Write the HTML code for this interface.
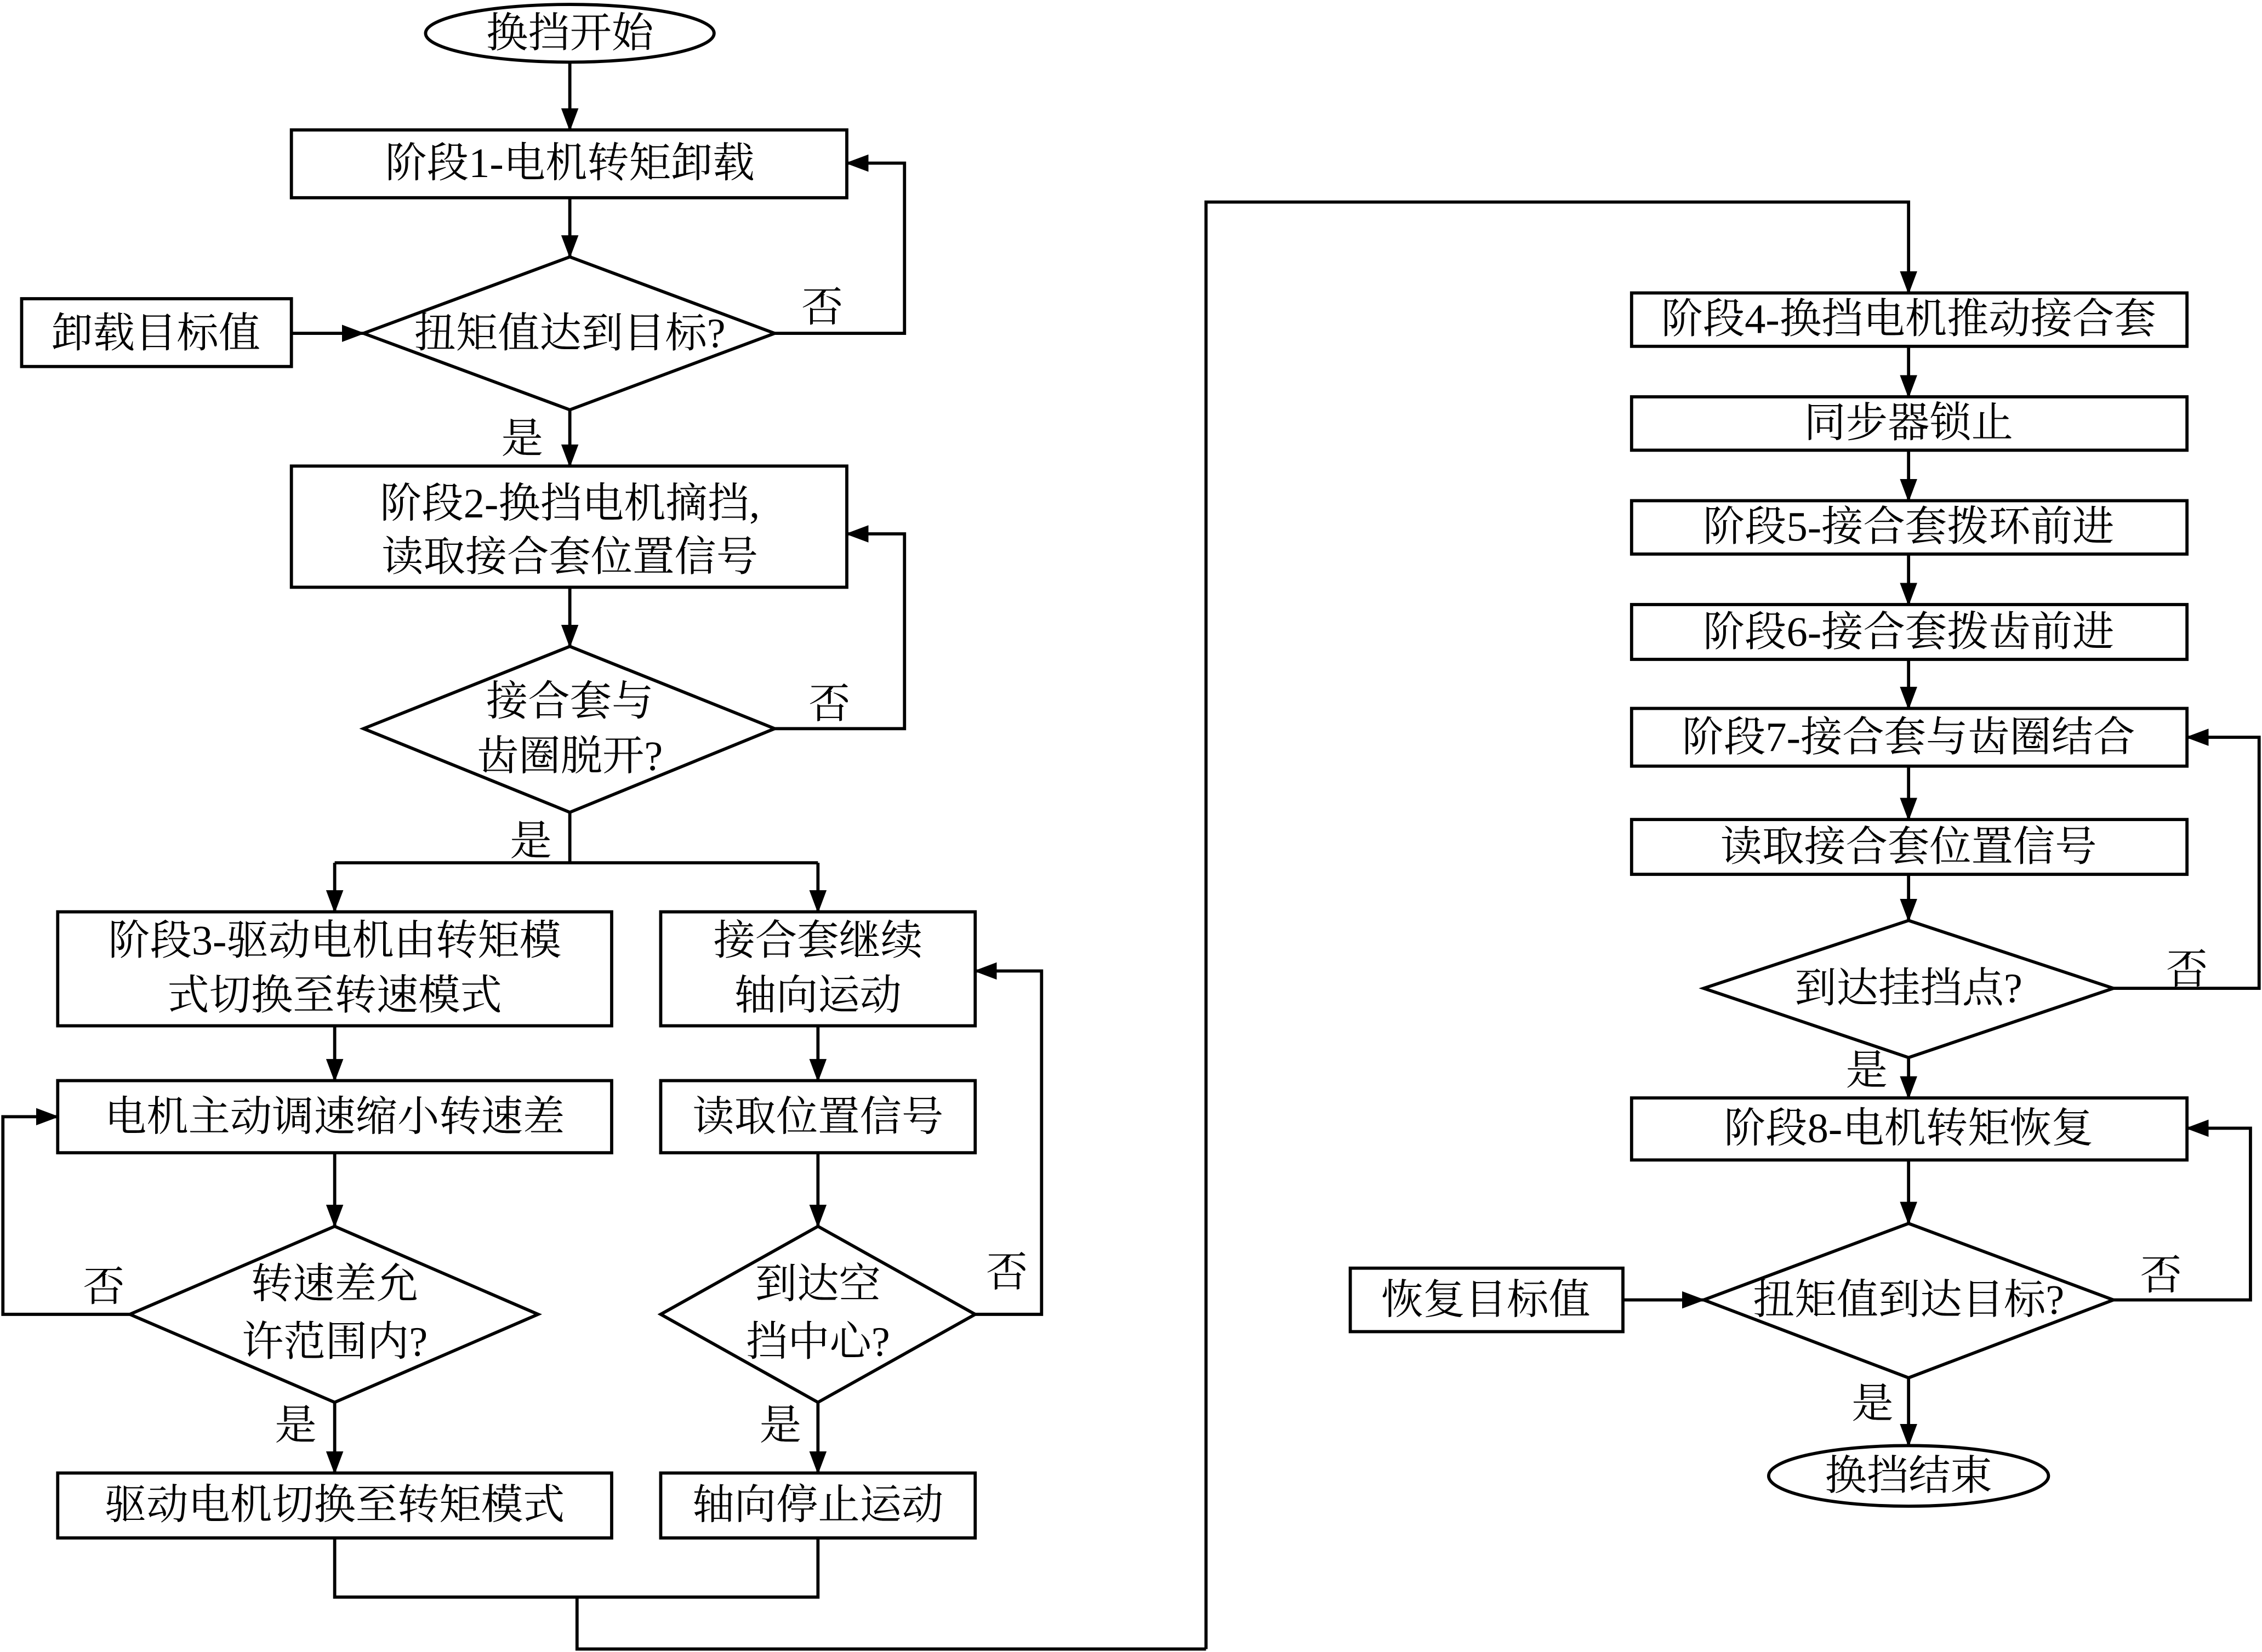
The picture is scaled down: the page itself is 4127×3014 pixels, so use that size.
<!DOCTYPE html>
<html><head><meta charset="utf-8"><style>
html,body{margin:0;padding:0;background:#fff;}
svg{display:block;}
text{font-family:"Liberation Serif","Noto Serif CJK SC","Noto Sans CJK SC",serif;font-size:29px;fill:#000;text-anchor:middle;dominant-baseline:central;}
.s{fill:none;stroke:#000;stroke-width:2.2;}
</style></head><body>
<svg width="4127" height="3014" viewBox="0 0 1568 1145" xmlns="http://www.w3.org/2000/svg">
<defs><marker id="a" markerWidth="16" markerHeight="12" refX="15" refY="6" orient="auto" markerUnits="userSpaceOnUse"><path d="M0,0 L16,6 L0,12 z" fill="#000"/></marker></defs>
<g class="s">
<ellipse cx="395" cy="23" rx="100" ry="20"/>
<rect x="202" y="90" width="385" height="47"/>
<polygon points="395,178 537,231 395,284 252,231"/>
<rect x="15" y="207" width="187" height="47"/>
<rect x="202" y="323" width="385" height="84"/>
<polygon points="395,448 537,505 395,563 252,505"/>
<rect x="40" y="632" width="384" height="79"/>
<rect x="458" y="632" width="218" height="79"/>
<rect x="40" y="749" width="384" height="50"/>
<rect x="458" y="749" width="218" height="50"/>
<polygon points="232,850 373,911 232,972 90,911"/>
<polygon points="567,850 676,911 567,972 458,911"/>
<rect x="40" y="1021" width="384" height="45"/>
<rect x="458" y="1021" width="218" height="45"/>
<rect x="1131" y="203" width="385" height="37"/>
<rect x="1131" y="275" width="385" height="37"/>
<rect x="1131" y="347" width="385" height="37"/>
<rect x="1131" y="419" width="385" height="38"/>
<rect x="1131" y="491" width="385" height="40"/>
<rect x="1131" y="568" width="385" height="38"/>
<polygon points="1323,638 1465,685 1323,733 1181,685"/>
<rect x="1131" y="761" width="385" height="43"/>
<polygon points="1323,848 1465,901 1323,955 1181,901"/>
<rect x="936" y="879" width="189" height="44"/>
<ellipse cx="1323" cy="1023" rx="97" ry="21"/>
</g>
<g class="s" marker-end="url(#a)">
<path d="M395,43 V90"/>
<path d="M395,137 V178"/>
<path d="M202,231 H252"/>
<path d="M537,231 H627 V113 H587"/>
<path d="M395,284 V323"/>
<path d="M395,407 V448"/>
<path d="M537,505 H627 V370 H587"/>
<path d="M232,598 V632"/>
<path d="M567,598 V632"/>
<path d="M232,711 V749"/>
<path d="M567,711 V749"/>
<path d="M232,799 V850"/>
<path d="M567,799 V850"/>
<path d="M90,911 H2 V774 H40"/>
<path d="M676,911 H722 V673 H676"/>
<path d="M232,972 V1021"/>
<path d="M567,972 V1021"/>
<path d="M836,1143 V140 H1323 V203"/>
<path d="M1323,240 V275"/>
<path d="M1323,312 V347"/>
<path d="M1323,384 V419"/>
<path d="M1323,457 V491"/>
<path d="M1323,531 V568"/>
<path d="M1323,606 V638"/>
<path d="M1465,685 H1566 V511 H1516"/>
<path d="M1323,733 V761"/>
<path d="M1323,804 V848"/>
<path d="M1465,901 H1560 V782 H1516"/>
<path d="M1125,901 H1181"/>
<path d="M1323,955 V1002"/>
</g>
<g class="s">
<path d="M395,563 V598 M232,598 H567"/>
<path d="M232,1066 V1107 H567 V1066 M400,1107 V1143 H836"/>
</g>
<text x="395" y="23">换挡开始</text>
<text x="395" y="113">阶段1-电机转矩卸载</text>
<text x="395" y="231">扭矩值达到目标?</text>
<text x="108" y="231">卸载目标值</text>
<text x="570" y="213">否</text>
<text x="362" y="304">是</text>
<text x="395" y="349">阶段2-换挡电机摘挡,</text>
<text x="395" y="386">读取接合套位置信号</text>
<text x="395" y="486">接合套与</text>
<text x="395" y="524">齿圈脱开?</text>
<text x="575" y="488">否</text>
<text x="368" y="583">是</text>
<text x="232" y="652">阶段3-驱动电机由转矩模</text>
<text x="232" y="690">式切换至转速模式</text>
<text x="567" y="652">接合套继续</text>
<text x="567" y="690">轴向运动</text>
<text x="232" y="774">电机主动调速缩小转速差</text>
<text x="567" y="774">读取位置信号</text>
<text x="232" y="890">转速差允</text>
<text x="232" y="930">许范围内?</text>
<text x="72" y="892">否</text>
<text x="567" y="890">到达空</text>
<text x="567" y="930">挡中心?</text>
<text x="698" y="882">否</text>
<text x="205" y="988">是</text>
<text x="541" y="988">是</text>
<text x="232" y="1043">驱动电机切换至转矩模式</text>
<text x="567" y="1043">轴向停止运动</text>
<text x="1323" y="221">阶段4-换挡电机推动接合套</text>
<text x="1323" y="293">同步器锁止</text>
<text x="1323" y="365">阶段5-接合套拨环前进</text>
<text x="1323" y="438">阶段6-接合套拨齿前进</text>
<text x="1323" y="511">阶段7-接合套与齿圈结合</text>
<text x="1323" y="587">读取接合套位置信号</text>
<text x="1323" y="685">到达挂挡点?</text>
<text x="1516" y="672">否</text>
<text x="1294" y="742">是</text>
<text x="1323" y="782">阶段8-电机转矩恢复</text>
<text x="1323" y="901">扭矩值到达目标?</text>
<text x="1498" y="884">否</text>
<text x="1030" y="901">恢复目标值</text>
<text x="1298" y="973">是</text>
<text x="1323" y="1023">换挡结束</text>
</svg>
</body></html>
